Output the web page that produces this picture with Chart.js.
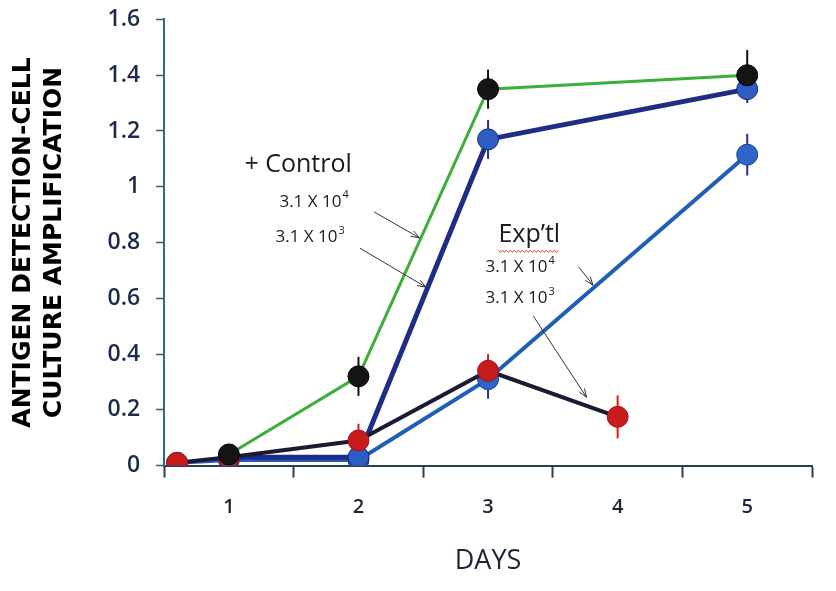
<!DOCTYPE html>
<html>
<head>
<meta charset="utf-8">
<script src="https://cdn.jsdelivr.net/npm/chart.js@4.4.1/dist/chart.umd.min.js"></script>
<style>
  html, body { margin: 0; padding: 0; background: #fff; }
  #wrap { width: 836px; height: 591px; }
</style>
</head>
<body>
<div id="wrap"><canvas id="chart"></canvas></div>
<script>
// days and readings taken off the figure
const ctrlDays = [1, 2, 3, 5];
const ctrl4Values = [0.04, 0.32, 1.35, 1.40];
const ctrl4Errors = [0.02, 0.07, 0.07, 0.09];
const ctrl3Values = [0.03, 0.03, 1.17, 1.35];
const ctrl3Errors = [0.02, 0.02, 0.07, 0.05];

const exp4Days = [0.6, 1, 2, 3, 5];
const exp4Values = [0.01, 0.02, 0.02, 0.31, 1.115];
const exp4Errors = [0.01, 0.01, 0.01, 0.07, 0.075];
const exp3Days = [0.6, 1, 2, 3, 4];
const exp3Values = [0.01, 0.03, 0.09, 0.34, 0.175];
const exp3Errors = [0.01, 0.02, 0.06, 0.06, 0.077];

const dayLabels = [1, 2, 3, 4, 5];
const yTicks = [0, 0.2, 0.4, 0.6, 0.8, 1, 1.2, 1.4, 1.6];

const FONT = '"Open Sans", Lato, sans-serif';

function pts(xs, ys, errs) {
    return xs.map((x, i) => ({ x: x, y: ys[i], err: errs[i] }));
}

// vertical error bars through each marker
const errorBars = {
    id: 'errorBars',
    beforeDatasetsDraw(chart) {
        const ctx = chart.ctx;
        const ys = chart.scales.y;
        ctx.save();
        chart.data.datasets.forEach((ds, di) => {
            const meta = chart.getDatasetMeta(di);
            ctx.strokeStyle = ds.errColor;
            ctx.lineWidth = 2;
            meta.data.forEach((el, i) => {
                const d = ds.data[i];
                ctx.beginPath();
                ctx.moveTo(el.x, ys.getPixelForValue(d.y + d.err));
                ctx.lineTo(el.x, ys.getPixelForValue(d.y - d.err));
                ctx.stroke();
            });
        });
        ctx.restore();
    }
};

// text labels and arrows, placed in data units
const notes = [
    { text: '+ Control', x: 1.12, y: 1.08, size: 25 },
    { text: '3.1 X 10', sup: '4', x: 1.39, y: 0.946, size: 17 },
    { text: '3.1 X 10', sup: '3', x: 1.36, y: 0.82, size: 17 },
    { text: 'Exp\u2019tl', x: 3.08, y: 0.827, size: 25, wavy: true },
    { text: '3.1 X 10', sup: '4', x: 2.98, y: 0.712, size: 17 },
    { text: '3.1 X 10', sup: '3', x: 2.98, y: 0.601, size: 17 }
];
const arrows = [
    [2.12, 0.91, 2.47, 0.817],
    [2.01, 0.78, 2.52, 0.64],
    [3.70, 0.712, 3.81, 0.647],
    [3.35, 0.536, 3.76, 0.245]
];

const annotations = {
    id: 'annotations',
    afterDatasetsDraw(chart) {
        const ctx = chart.ctx;
        const xs = chart.scales.x, ys = chart.scales.y;
        ctx.save();
        ctx.fillStyle = '#1a1a1a';
        ctx.textBaseline = 'middle';
        ctx.textAlign = 'left';
        notes.forEach(n => {
            const px = xs.getPixelForValue(n.x), py = ys.getPixelForValue(n.y);
            ctx.font = n.size + 'px ' + FONT;
            ctx.fillText(n.text, px, py);
            const w = ctx.measureText(n.text).width;
            if (n.sup) {
                ctx.font = Math.round(n.size * 0.65) + 'px ' + FONT;
                ctx.fillText(n.sup, px + w + 1, py - n.size * 0.38);
            }
            if (n.wavy) {
                ctx.strokeStyle = '#e03030';
                ctx.lineWidth = 1;
                ctx.beginPath();
                const yy = py + n.size * 0.62;
                for (let k = 0; k <= w; k += 2) {
                    const off = (k / 2) % 2 === 0 ? 0 : 1.5;
                    if (k === 0) ctx.moveTo(px + k, yy + off);
                    else ctx.lineTo(px + k, yy + off);
                }
                ctx.stroke();
            }
        });
        ctx.strokeStyle = '#333';
        ctx.lineWidth = 1;
        arrows.forEach(a => {
            const x1 = xs.getPixelForValue(a[0]), y1 = ys.getPixelForValue(a[1]);
            const x2 = xs.getPixelForValue(a[2]), y2 = ys.getPixelForValue(a[3]);
            ctx.beginPath();
            ctx.moveTo(x1, y1);
            ctx.lineTo(x2, y2);
            ctx.stroke();
            const ang = Math.atan2(y2 - y1, x2 - x1);
            const L = 9;
            ctx.beginPath();
            ctx.moveTo(x2 - L * Math.cos(ang - 0.35), y2 - L * Math.sin(ang - 0.35));
            ctx.lineTo(x2, y2);
            ctx.lineTo(x2 - L * Math.cos(ang + 0.35), y2 - L * Math.sin(ang + 0.35));
            ctx.stroke();
        });
        ctx.restore();
    }
};

const ctx = document.getElementById('chart').getContext('2d');
const chart = new Chart(ctx, {
    type: 'line',
    data: {
        datasets: [
            {
                label: '+ Control 3.1 X 10^4',
                data: pts(ctrlDays, ctrl4Values, ctrl4Errors),
                borderColor: '#3cae3a',
                borderWidth: 3,
                pointBackgroundColor: '#141414',
                pointBorderColor: '#000',
                pointBorderWidth: 1,
                pointRadius: 10.5,
                errColor: '#111'
            },
            {
                label: 'Exp\u2019tl 3.1 X 10^3',
                data: pts(exp3Days, exp3Values, exp3Errors),
                borderColor: '#1c1a33',
                borderWidth: 4,
                pointBackgroundColor: '#c81c1c',
                pointBorderColor: '#a01515',
                pointBorderWidth: 1,
                pointRadius: 10.5,
                errColor: '#e01818'
            },
            {
                label: '+ Control 3.1 X 10^3',
                data: pts(ctrlDays, ctrl3Values, ctrl3Errors),
                borderColor: '#1f2d86',
                borderWidth: 5,
                pointBackgroundColor: '#2d5cc4',
                pointBorderColor: '#1a2a70',
                pointBorderWidth: 1,
                pointRadius: 10.5,
                errColor: '#2230a0'
            },
            {
                label: 'Exp\u2019tl 3.1 X 10^4',
                data: pts(exp4Days, exp4Values, exp4Errors),
                borderColor: '#1f5fb8',
                borderWidth: 4,
                pointBackgroundColor: '#2f64c8',
                pointBorderColor: '#1d3f90',
                pointBorderWidth: 1,
                pointRadius: 10.5,
                errColor: '#2a2aa8'
            }
        ]
    },
    options: {
        responsive: true,
        maintainAspectRatio: false,
        animation: false,
        layout: { padding: { top: 0, right: 24, left: 8, bottom: 9 } },
        plugins: {
            legend: { display: false },
            tooltip: { enabled: false }
        },
        scales: {
            x: {
                type: 'linear',
                min: 0.5,
                max: 5.5,
                afterBuildTicks: (axis) => {
                    const t = [];
                    for (let v = 0.5; v <= 5.5; v += 0.5) t.push({ value: v });
                    axis.ticks = t;
                },
                ticks: {
                    autoSkip: false,
                    maxRotation: 0,
                    padding: 18,
                    color: '#1d2535',
                    font: { family: FONT, size: 20, weight: '600' },
                    callback: (v) => dayLabels.includes(v) ? String(v) : ''
                },
                grid: {
                    drawOnChartArea: false,
                    drawTicks: true,
                    tickLength: 12,
                    tickWidth: 2,
                    tickColor: (c) => Number.isInteger(c.tick.value) ? 'rgba(0,0,0,0)' : '#2c3e50'
                },
                border: { display: true, color: '#2c3e50', width: 2 },
                title: {
                    display: true,
                    text: 'DAYS',
                    color: '#1d2535',
                    font: { family: FONT, size: 27 },
                    padding: { top: 8 }
                }
            },
            y: {
                min: 0,
                max: 1.6,
                afterBuildTicks: (axis) => {
                    axis.ticks = yTicks.map(v => ({ value: v }));
                },
                ticks: {
                    padding: 16,
                    color: '#1d2b4a',
                    font: { family: FONT, size: 23, weight: '600', lineHeight: 0.3 },
                    callback: (v) => String(Math.round(v * 10) / 10)
                },
                grid: {
                    drawOnChartArea: false,
                    drawTicks: true,
                    tickLength: 8,
                    tickWidth: 1.5,
                    tickColor: '#2b5f78'
                },
                border: { display: true, color: '#2b6a85', width: 2 },
                title: {
                    display: true,
                    text: ['ANTIGEN DETECTION-CELL', 'CULTURE AMPLIFICATION'],
                    color: '#000',
                    font: { family: '"DejaVu Sans", sans-serif', size: 25, weight: 'bold', lineHeight: 1.25 },
                    padding: { top: 0, bottom: 21 }
                }
            }
        }
    },
    plugins: [errorBars, annotations]
});
</script>
</body>
</html>
